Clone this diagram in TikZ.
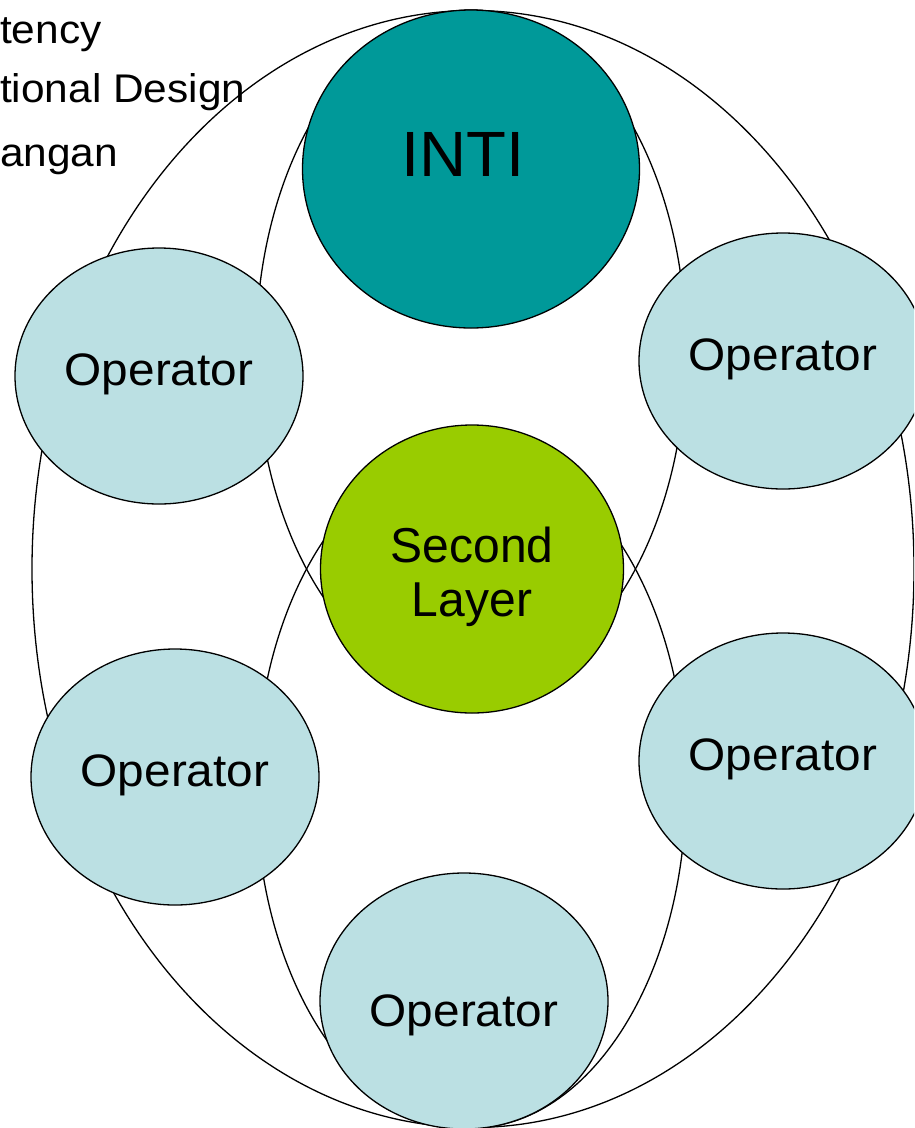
\documentclass[tikz,border=0pt]{standalone}
\usepackage{fontspec}
\setmainfont{Liberation Sans}
\newfontfamily\opfont[FakeStretch=1.05]{Liberation Sans}
\newfontfamily\slfont[FakeStretch=0.98]{Liberation Sans}
\newfontfamily\intifont[FakeStretch=1.02]{Liberation Sans}
\newfontfamily\sidefont[FakeStretch=1.06]{Liberation Sans}
\usetikzlibrary{shapes.geometric}
\definecolor{opfill}{HTML}{BBE0E3}
\definecolor{intifill}{HTML}{009999}
\definecolor{slfill}{HTML}{99CC00}
\begin{document}
\begin{tikzpicture}[x=1pt,y=-1pt,
  ring/.style={draw=black, line width=1.3pt, ellipse, inner sep=0pt},
  blob/.style={draw=black, line width=1.3pt, ellipse, inner sep=0pt},
  oper/.style={blob, fill=opfill, minimum width=288pt, minimum height=256pt},
  optext/.style={font=\opfont\fontsize{45.5}{54}\selectfont, inner sep=0pt, anchor=base},
  side/.style={font=\sidefont\fontsize{40}{49}\selectfont, inner sep=0pt, anchor=base west}
]
\path[use as bounding box, clip] (0,0) rectangle (914,1128);
\fill[white] (0,0) rectangle (914,1128);

% rings
\node[ring, minimum width=882pt, minimum height=1117pt] (outer) at (473,569) {};
\node[ring, minimum width=430pt, minimum height=680pt] (upper) at (471,350) {};
\node[ring, minimum width=430pt, minimum height=680pt] (lower) at (471,788) {};

% side text
\node[side] (s1) at (0,43) {tency};
\node[side] (s2) at (0,102) {tional Design};
\node[side] (s3) at (0,166) {angan};

% core
\node[blob, fill=intifill, minimum width=337pt, minimum height=318pt] (inti) at (471,169) {};
\node[font=\intifont\fontsize{64}{70}\selectfont, inner sep=0pt, anchor=base] (intitext) at ([xshift=-8pt, yshift=-7pt]inti.center) {INTI};
\node[blob, fill=slfill, minimum width=303pt, minimum height=288pt] (second) at (472,569) {};
\node[font=\slfont\fontsize{49}{54}\selectfont, align=center, inner sep=0pt, anchor=center] (sltext) at ([yshift=-8pt]second.center) {Second\\Layer};

% operators
\node[oper] (o1) at (159,376) {};
\node[oper] (o2) at (783,361) {};
\node[oper] (o3) at (175,777) {};
\node[oper] (o4) at (783,761) {};
\node[oper] (o5) at (464,1001) {};
\node[optext] (o1t) at ([yshift=-9pt]o1.center) {Operator};
\node[optext] (o2t) at ([yshift=-9pt]o2.center) {Operator};
\node[optext] (o3t) at ([yshift=-9pt]o3.center) {Operator};
\node[optext] (o4t) at ([yshift=-9pt]o4.center) {Operator};
\node[optext] (o5t) at ([yshift=-25pt]o5.center) {Operator};
\end{tikzpicture}
\end{document}
